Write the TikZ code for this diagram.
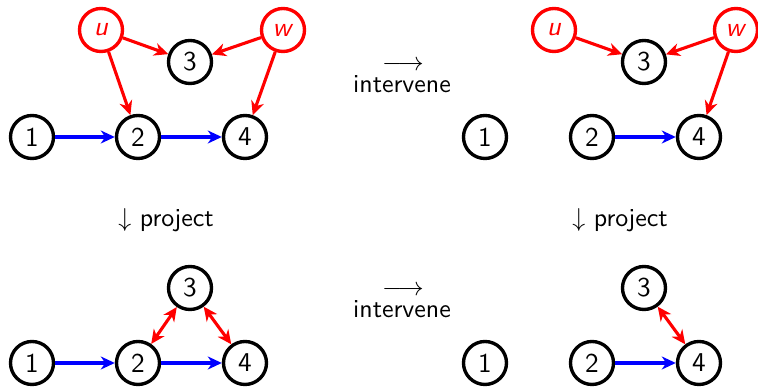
\documentclass[tikz,border=0pt]{standalone}
\usetikzlibrary{arrows.meta}
\renewcommand{\familydefault}{\sfdefault}
\begin{document}
\begin{tikzpicture}[x=0.386pt,y=-0.386pt,
  vnode/.style={circle,draw,line width=1.3pt,minimum size=16.6pt,inner sep=0pt,font=\fontsize{10.5}{12}\selectfont},
  lat/.style={vnode,draw=red,text=red},
  tip/.tip={Stealth[length=5.4pt,width=5pt,inset=1.7pt]},
  blueedge/.style={draw=blue,line width=1.2pt,-tip},
  rededge/.style={draw=red,line width=1.2pt,-tip},
  biedge/.style={draw=red,line width=1.2pt,tip-tip},
  lbl/.style={anchor=base,inner sep=0pt,font=\fontsize{10}{12}\selectfont}]
\useasboundingbox (0,0) rectangle (758,387);

% top-left
\node[vnode] (a1) at (32,137) {1};
\node[vnode] (a2) at (138,137) {2};
\node[vnode] (a4) at (245,137) {4};
\node[vnode] (a3) at (190,62) {3};
\node[lat] (au) at (101,30) {\textit{u}};
\node[lat] (aw) at (283,30) {\textit{w}};
\draw[blueedge] (a1) -- (a2);
\draw[blueedge] (a2) -- (a4);
\draw[rededge] (au) -- (a3);
\draw[rededge] (au) -- (a2);
\draw[rededge] (aw) -- (a3);
\draw[rededge] (aw) -- (a4);

% top-right
\node[vnode] (b1) at (485,137) {1};
\node[vnode] (b2) at (592,137) {2};
\node[vnode] (b4) at (699,137) {4};
\node[vnode] (b3) at (644,62) {3};
\node[lat] (bu) at (554,30) {\textit{u}};
\node[lat] (bw) at (736,30) {\textit{w}};
\draw[blueedge] (b2) -- (b4);
\draw[rededge] (bu) -- (b3);
\draw[rededge] (bw) -- (b3);
\draw[rededge] (bw) -- (b4);

% bottom-left
\node[vnode] (c1) at (32,363) {1};
\node[vnode] (c2) at (138,363) {2};
\node[vnode] (c4) at (245,363) {4};
\node[vnode] (c3) at (190,288) {3};
\draw[blueedge] (c1) -- (c2);
\draw[blueedge] (c2) -- (c4);
\draw[biedge] (c2) -- (c3);
\draw[biedge] (c3) -- (c4);

% bottom-right
\node[vnode] (d1) at (485,363) {1};
\node[vnode] (d2) at (592,363) {2};
\node[vnode] (d4) at (699,363) {4};
\node[vnode] (d3) at (644,288) {3};
\draw[blueedge] (d2) -- (d4);
\draw[biedge] (d3) -- (d4);

% labels
\node[lbl] (t1a) at (403,70.5) {$\longrightarrow$};
\node[lbl] (t1b) at (402,93) {intervene};
\node[lbl] (t2a) at (403,296) {$\longrightarrow$};
\node[lbl] (t2b) at (402,318) {intervene};
\node[lbl] (p1) at (166,227) {$\downarrow$ project};
\node[lbl] (p2) at (620,227) {$\downarrow$ project};
\end{tikzpicture}
\end{document}
